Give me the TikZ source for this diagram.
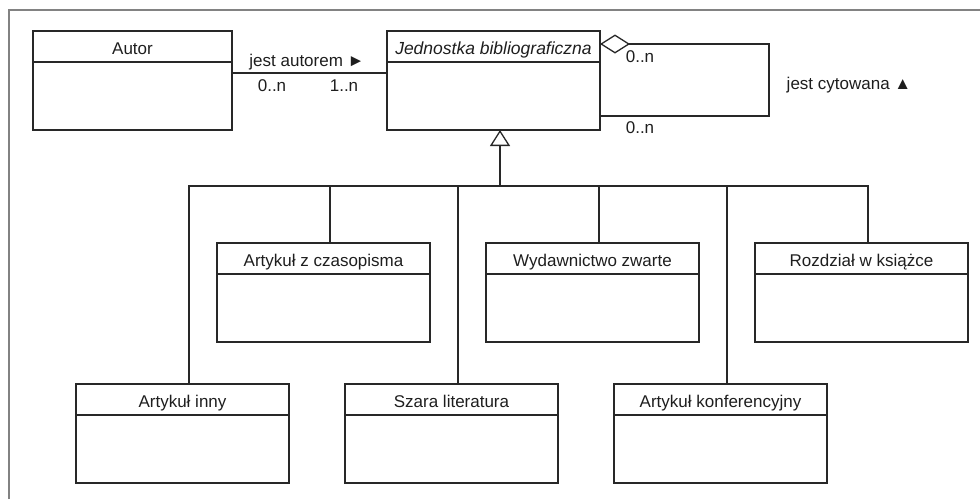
\documentclass[tikz,border=0pt]{standalone}
\usepackage{fontspec}
\setmainfont{Liberation Sans}
\usetikzlibrary{arrows.meta,calc}
\definecolor{ln}{RGB}{40,40,40}
\definecolor{tx}{RGB}{30,30,30}
\definecolor{fr}{RGB}{130,130,130}
\tikzset{
 lbl/.style={font=\fontsize{17}{20}\selectfont, text=tx, inner sep=0pt},
 hdr/.style={draw=ln, line width=1.3pt, outer sep=0pt, anchor=north west, minimum width=213pt, minimum height=31pt, inner sep=0pt, text height=16.8pt, text depth=0pt, lbl},
 bdy/.style={draw=ln, line width=1.3pt, outer sep=0pt, anchor=north west, minimum width=213pt, minimum height=68pt, inner sep=0pt},
 conn/.style={draw=ln, line width=1.3pt},
}
\begin{document}
\begin{tikzpicture}[x=1pt,y=-1pt]
\useasboundingbox (0,0) rectangle (980,499);
\draw[fr, line width=1.2pt] (9,499) -- (9,10) -- (980,10);
% classes
\node[hdr,minimum width=199pt] (ah) at (33,31) {Autor};
\node[bdy,minimum width=199pt] (ab) at (ah.south west) {};
\node[hdr,font=\fontsize{17.5}{20}\selectfont\itshape] (jh) at (387,31) {Jednostka bibliograficzna};
\node[bdy] (jb) at (jh.south west) {};
\node[hdr] (zh) at (217,243) {Artykuł z czasopisma};
\node[bdy] (zb) at (zh.south west) {};
\node[hdr] (wh) at (486,243) {Wydawnictwo zwarte};
\node[bdy] (wb) at (wh.south west) {};
\node[hdr] (rh) at (755,243) {Rozdział w książce};
\node[bdy] (rb) at (rh.south west) {};
\node[hdr] (ih) at (76,384) {Artykuł inny};
\node[bdy] (ib) at (ih.south west) {};
\node[hdr] (sh) at (345,384) {Szara literatura};
\node[bdy] (sb) at (sh.south west) {};
\node[hdr] (kh) at (614,384) {Artykuł konferencyjny};
\node[bdy] (kb) at (kh.south west) {};
% association Autor - Jednostka
\coordinate (a1) at ($(ab.north east)+(0,11)$);
\draw[conn] (a1) -- (jb.west |- a1);
\node[lbl] (ja) at (307,62) {jest autorem ►};
\node[lbl] (m1) at (272,86) {0..n};
\node[lbl] (m2) at (344,86) {1..n};
% self association
\coordinate (s1) at ($(jh.north east)+(0,13)$);
\coordinate (s2) at ($(jb.south east)+(0,-14)$);
\draw[conn, {Diamond[open,length=30pt,width=19pt]}-] (s1) -- ++(169,0) |- (s2);
\node[lbl] (m3) at (640,57) {0..n};
\node[lbl] (m4) at (640,128) {0..n};
\node[lbl] (jc) at (849,85) {jest cytowana ▲};
% generalization
\coordinate (g0) at ($(jb.south)+(6.5,0)$);
\coordinate (bus) at ($(g0)+(0,56)$);
\draw[conn, {Triangle[open,length=16pt,width=20pt]}-] (g0) -- (bus);
\coordinate (ci) at ($(ih.north)+(6.5,0)$);
\coordinate (cz) at ($(zh.north)+(6.5,0)$);
\coordinate (cs) at ($(sh.north)+(6.5,0)$);
\coordinate (cw) at ($(wh.north)+(6.5,0)$);
\coordinate (ck) at ($(kh.north)+(6.5,0)$);
\coordinate (cr) at ($(rh.north)+(6.5,0)$);
\draw[conn] (ci) -- (ci |- bus) -- (cr |- bus) -- (cr);
\draw[conn] (cz) -- (cz |- bus);
\draw[conn] (cs) -- (cs |- bus);
\draw[conn] (cw) -- (cw |- bus);
\draw[conn] (ck) -- (ck |- bus);
\end{tikzpicture}
\end{document}
